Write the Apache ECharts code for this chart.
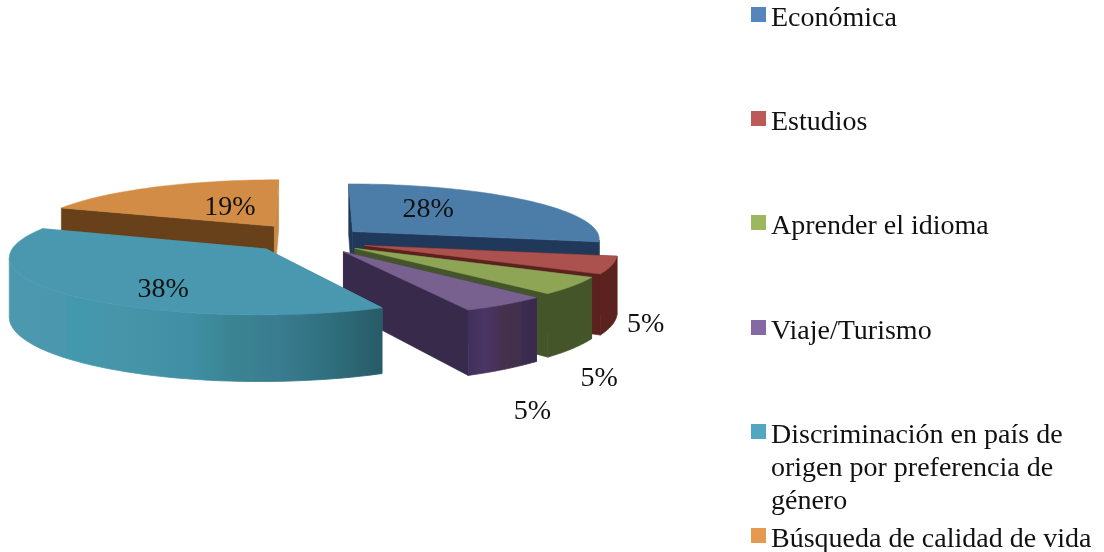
<!DOCTYPE html>
<html>
<head>
<meta charset="utf-8">
<style>html,body{margin:0;padding:0;background:#fff}#c{width:1104px;height:552px}</style>
<script src="https://cdn.jsdelivr.net/npm/echarts@6/dist/echarts.min.js"></script>
</head>
<body>
<div id="c"></div>
<script>
const categories = ['Económica','Estudios','Aprender el idioma','Viaje/Turismo','Discriminación en país de origen por preferencia de género','Búsqueda de calidad de vida'];
const legendLines = [['Económica'],['Estudios'],['Aprender el idioma'],['Viaje/Turismo'],['Discriminación en país de','origen por preferencia de','género'],['Búsqueda de calidad de vida']];
const values = [28,5,5,5,38,19];
const legendColors = ['#5585BC','#BC5A58','#9BB75F','#8569A5','#52A6C0','#E59A50'];
const topColors = ['#4C7CA8','#AB514E','#8FA556','#78608F','#4A98B0','#D38C45'];
const cutColors = ['#20395A','#5A211F','#44552A','#372A4B','#4A98B0','#68411A'];
const startCutColors = ['#20395A','#5A211F','#44552A','#372A4B','#4A98B0','#C88A45'];
const wallStops = [
  [[0,'#20395A'],[1,'#20395A']],
  [[0,'#5A231F'],[1,'#5A231F']],
  [[0,'#44552A'],[1,'#44552A']],
  [[0,'#41305A'],[0.25,'#4A3565'],[0.5,'#46304F'],[0.75,'#42304C'],[0.8,'#3B2B50'],[1,'#392A4E']],
  [[0,'#4C99AF'],[0.15,'#4B97AE'],[0.155,'#4399AE'],[0.3,'#4695A9'],[0.5,'#3F8EA3'],[0.6,'#3A8492'],[0.72,'#3A7C90'],[0.85,'#30707F'],[1,'#275B66']],
  [[0,'#C88A45'],[1,'#C88A45']]
];
const explode = [0.2,0.21,0.2,0.2,0.28,0.3];
const sliceDrop = [1,4,4,5,0,2];
const labelRadius = [0.42,1.13,1.11,1.15,0.55,0.35];
const labelDrop = [-8,57,88,98,16,-4];
const drawOrder = [5,0,1,2,3,4];
const legendIconCentres = [14.5,118.5,222.5,327.5,431.5,535.5];

const FONT = 'Liberation Serif';
const FS = 28;
const CX = 315, CY = 237.5, A = 248, B = 55, P = 0.12, DEPTH = 57;
const total = values.reduce((a,b)=>a+b,0);
const angles = []; let acc = 0;
values.forEach(v=>{ const a0 = acc/total*Math.PI*2; acc += v; angles.push([a0, acc/total*Math.PI*2]); });

function project(i, X, V, z){
  const s = 1/(1-P*V);
  return [CX + X*A*s, CY + sliceDrop[i] + V*B*s + (z||0)*s];
}
function ground(i, theta, r){
  const m = (angles[i][0]+angles[i][1])/2, d = explode[i];
  return [d*Math.sin(m)+r*Math.sin(theta), -d*Math.cos(m)-r*Math.cos(theta)];
}
function pt(i, theta, r, z){ const g = ground(i,theta,r); return project(i,g[0],g[1],z); }

function renderSlice(i){
  return function(params, api){
    const val = api.value(0);
    const a0 = angles[i][0], a1 = angles[i][1], n = 48;
    const arcTop = [], wallTop = [], wallBot = [];
    const f0 = Math.max(a0, Math.PI*0.55), f1 = Math.min(a1, Math.PI*1.45);
    for(let k=0;k<=n;k++){
      arcTop.push(pt(i,a0+(a1-a0)*k/n,1,0));
      if(f1>f0){
        const t = f0+(f1-f0)*k/n;
        wallTop.push(pt(i,t,1,0)); wallBot.push(pt(i,t,1,DEPTH));
      }
    }
    const apexT = pt(i,a0,0,0), apexB = pt(i,a0,0,DEPTH);
    const cut = (t,fill)=>({type:'polygon',shape:{points:[pt(i,t,1,0),apexT,apexB,pt(i,t,1,DEPTH)]},
      style:{fill:fill,stroke:fill,lineWidth:0.6}});
    const m = (a0+a1)/2;
    const lp = pt(i,m,labelRadius[i],0);
    const stops = wallStops[i].map(s=>({offset:s[0],color:s[1]}));
    const grad = {type:'linear',x:0,y:0,x2:1,y2:0,colorStops:stops};
    const children = [cut(a0,cutColors[i]),cut(a1,startCutColors[i])];
    if(wallTop.length) children.push({type:'polygon',shape:{points:wallTop.concat(wallBot.slice().reverse())},
       style:{fill:grad,stroke:grad,lineWidth:0.8}});
    children.push({type:'polygon',shape:{points:[apexT].concat(arcTop)},style:{fill:topColors[i],stroke:topColors[i],lineWidth:0.5}});
    children.push({type:'text',style:{x:lp[0],y:lp[1]+labelDrop[i],text:Math.round(val/total*100)+'%',
        fontFamily:FONT,fontSize:FS,fill:'#111',align:'center',verticalAlign:'middle'}});
    return {type:'group',children:children};
  };
}

const series = drawOrder.map(i=>({
  type:'custom',name:categories[i],coordinateSystem:'none',silent:true,
  itemStyle:{color:legendColors[i]},
  data:[values[i]],renderItem:renderSlice(i),animation:false
}));
const legend = categories.map((c,i)=>{
  const multi = legendLines[i].length>1, pad = multi?75:9;
  return {
    data:[{name:c,icon:'rect',itemStyle:{color:legendColors[i]}}],
    left:751,top:legendIconCentres[i]-(multi?9.5:9.5),padding:0,itemWidth:15,itemHeight:15,selectedMode:false,orient:'vertical',
    formatter:()=>legendLines[i].map(l=>'{t|'+l+'}').join('\n'),
    textStyle:{padding:[pad,0,0,0],rich:{t:{fontFamily:FONT,fontSize:FS,color:'#111',lineHeight:33}}}
  };
});
const chart = echarts.init(document.getElementById('c'),null,{renderer:'canvas'});
chart.setOption({backgroundColor:'#fff',animation:false,legend:legend,series:series});
</script>
</body>
</html>
